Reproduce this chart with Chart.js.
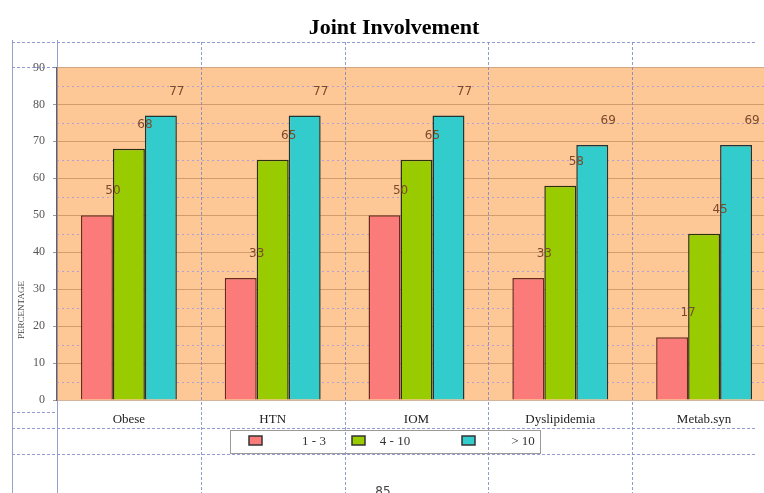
<!DOCTYPE html>
<html>
<head>
<meta charset="utf-8">
<script src="https://cdn.jsdelivr.net/npm/chart.js@4.4.1/dist/chart.umd.min.js"></script>
<style>
  html,body{margin:0;padding:0;background:#fff;overflow:hidden;width:764px;height:493px;}
  #wrap{position:absolute;left:0;top:0;width:800px;height:493px;}
</style>
</head>
<body>
<div id="wrap"><canvas id="c"></canvas></div>
<script>
const categories = ['Obese', 'HTN', 'IOM', 'Dyslipidemia', 'Metab.syn'];
const seriesLabels = ['1 - 3', '4 - 10', '> 10'];
const series1 = [50, 33, 50, 33, 17];
const series2 = [68, 65, 65, 58, 45];
const series3 = [77, 77, 77, 69, 69];
const yTickValues = [0, 10, 20, 30, 40, 50, 60, 70, 80, 90];
const minorLineValues = [5, 15, 25, 35, 45, 55, 65, 75, 85];

const colors = ['#fb7b7b', '#99cc00', '#33cccc'];
const borders = ['#6a2a20', '#2a3010', '#1f3535'];
const serif = "'Liberation Serif', 'Times New Roman', serif";

const decor = {
  id: 'decor',
  beforeDraw(chart) {
    const {ctx, chartArea: a} = chart;
    ctx.save();
    ctx.fillStyle = '#fdc796';
    ctx.fillRect(a.left, a.top, a.right - a.left, a.bottom - a.top);
    ctx.restore();
  },
  beforeDatasetsDraw(chart) {
    const {ctx, chartArea: a, scales} = chart;
    ctx.save();
    ctx.strokeStyle = 'rgba(150,150,235,0.75)';
    ctx.lineWidth = 1;
    ctx.setLineDash([2, 3]);
    minorLineValues.forEach(v => {
      const y = Math.round(scales.y.getPixelForValue(v)) + 0.5;
      ctx.beginPath(); ctx.moveTo(a.left, y); ctx.lineTo(a.right, y); ctx.stroke();
    });
    ctx.restore();
  },
  afterDraw(chart) {
    const {ctx, chartArea: a, scales} = chart;
    const xs = scales.x;
    ctx.save();
    ctx.strokeStyle = 'rgba(120,130,200,0.8)';
    ctx.lineWidth = 1;
    ctx.setLineDash([3, 2]);
    const hLines = [42.5, 428.5, 454.5];
    hLines.forEach(y => { ctx.beginPath(); ctx.moveTo(12, y); ctx.lineTo(757, y); ctx.stroke(); });
    [67.5, 412.5].forEach(y => { ctx.beginPath(); ctx.moveTo(12, y); ctx.lineTo(a.left, y); ctx.stroke(); });
    const vLines = [];
    for (let i = 0; i < categories.length - 1; i++) {
      vLines.push((xs.getPixelForValue(i) + xs.getPixelForValue(i + 1)) / 2);
    }
    vLines.forEach(x => {
      x = Math.round(x) + 0.5;
      ctx.beginPath(); ctx.moveTo(x, 42); ctx.lineTo(x, 493); ctx.stroke();
    });
    ctx.setLineDash([]);
    ctx.strokeStyle = 'rgba(140,150,200,0.9)';
    [12.5, a.left + 0.5].forEach(x => {
      ctx.beginPath(); ctx.moveTo(x, 40); ctx.lineTo(x, 493); ctx.stroke();
    });

    // data labels
    ctx.fillStyle = '#7b4a2c';
    ctx.font = "12px 'DejaVu Sans', sans-serif";
    ctx.textAlign = 'center';
    ctx.textBaseline = 'middle';
    chart.data.datasets.forEach((ds, di) => {
      chart.getDatasetMeta(di).data.forEach((bar, i) => {
        ctx.fillText(String(ds.data[i]), bar.x + bar.width / 2, bar.y - 24);
      });
    });

    // legend
    ctx.strokeStyle = '#9a9a9a';
    ctx.lineWidth = 1;
    ctx.strokeRect(230.5, 430.5, 310, 23);
    const swX = [249, 352, 462];
    const txX = [314, 395, 523];
    ctx.font = '13px ' + serif;
    chart.data.datasets.forEach((ds, di) => {
      ctx.fillStyle = ds.backgroundColor;
      ctx.fillRect(swX[di], 436, 13, 9);
      ctx.strokeStyle = '#333';
      ctx.lineWidth = 1.5;
      ctx.strokeRect(swX[di], 436, 13, 9);
      ctx.fillStyle = '#333';
      ctx.textAlign = 'center';
      ctx.fillText(ds.label, txX[di], 442);
    });

    // axis title fragment
    ctx.save();
    ctx.translate(22, 310);
    ctx.rotate(-Math.PI / 2);
    ctx.fillStyle = '#444';
    ctx.font = '9px ' + serif;
    ctx.textAlign = 'center';
    ctx.fillText('PERCENTAGE', 0, 0);
    ctx.restore();

    // page number
    ctx.fillStyle = '#444';
    ctx.font = "12px 'DejaVu Sans', sans-serif";
    ctx.textAlign = 'center';
    ctx.fillText('85', 383, 492);
    ctx.restore();
  }
};

new Chart(document.getElementById('c'), {
  type: 'bar',
  data: {
    labels: categories,
    datasets: [
      {label: seriesLabels[0], data: series1, backgroundColor: colors[0], borderColor: borders[0], borderWidth: 1.5},
      {label: seriesLabels[1], data: series2, backgroundColor: colors[1], borderColor: borders[1], borderWidth: 1.5},
      {label: seriesLabels[2], data: series3, backgroundColor: colors[2], borderColor: borders[2], borderWidth: 1.5}
    ]
  },
  options: {
    responsive: true,
    maintainAspectRatio: false,
    animation: false,
    layout: {padding: {left: 12, right: 24, top: 0, bottom: 0}},
    datasets: {bar: {categoryPercentage: 0.667, barPercentage: 1.0}},
    plugins: {
      legend: {display: false},
      tooltip: {enabled: false},
      title: {
        display: true,
        text: 'Joint Involvement',
        color: '#000',
        font: {family: serif, size: 22, weight: 'bold'},
        padding: {top: 15, bottom: 26}
      }
    },
    scales: {
      x: {
        grid: {display: false},
        border: {display: false},
        ticks: {color: '#222', font: {family: serif, size: 13}, padding: 4},
        afterFit(s) { s.height = 93; }
      },
      y: {
        min: 0, max: 90,
        afterBuildTicks(s) { s.ticks = yTickValues.map(v => ({value: v})); },
        grid: {color: 'rgba(175,120,80,0.55)', lineWidth: 1, tickLength: 4, tickColor: '#999'},
        border: {display: true, color: '#7a5a40', width: 1.5},
        ticks: {color: '#555', font: {family: serif, size: 12}, padding: 8},
        afterFit(s) { s.width = 45; }
      }
    }
  },
  plugins: [decor]
});
</script>
</body>
</html>
